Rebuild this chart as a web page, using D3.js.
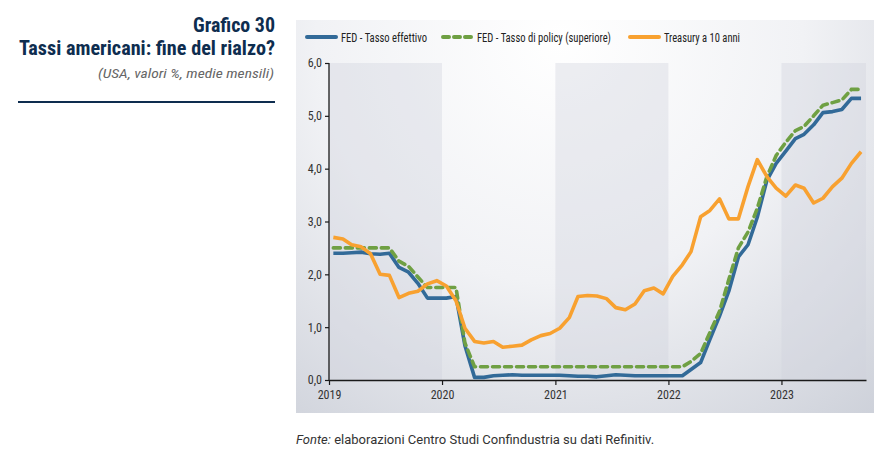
<!DOCTYPE html>
<html><head><meta charset="utf-8">
<script src="https://cdn.jsdelivr.net/npm/d3@7"></script>
<style>
body{margin:0;background:#fff;}
svg{display:block;}
text{font-family:'Roboto Condensed','Liberation Sans Narrow','Arial Narrow',Roboto,sans-serif;}
</style></head><body>
<svg id="c" width="891" height="453"></svg>
<script>
const months = [
"2019-01","2019-02","2019-03","2019-04","2019-05","2019-06","2019-07","2019-08","2019-09","2019-10","2019-11","2019-12",
"2020-01","2020-02","2020-03","2020-04","2020-05","2020-06","2020-07","2020-08","2020-09","2020-10","2020-11","2020-12",
"2021-01","2021-02","2021-03","2021-04","2021-05","2021-06","2021-07","2021-08","2021-09","2021-10","2021-11","2021-12",
"2022-01","2022-02","2022-03","2022-04","2022-05","2022-06","2022-07","2022-08","2022-09","2022-10","2022-11","2022-12",
"2023-01","2023-02","2023-03","2023-04","2023-05","2023-06","2023-07","2023-08","2023-09"];
const fedEffettivo = [
2.40,2.40,2.41,2.42,2.39,2.38,2.40,2.13,2.04,1.83,1.55,1.55,
1.55,1.58,0.65,0.05,0.05,0.08,0.09,0.10,0.09,0.09,0.09,0.09,
0.09,0.08,0.07,0.07,0.06,0.08,0.10,0.09,0.08,0.08,0.08,0.08,
0.08,0.08,0.20,0.33,0.77,1.21,1.68,2.33,2.56,3.08,3.78,4.10,
4.33,4.57,4.65,4.83,5.06,5.08,5.12,5.33,5.33];
const fedPolicy = [
2.50,2.50,2.50,2.50,2.50,2.50,2.50,2.25,2.15,1.95,1.75,1.75,
1.75,1.75,0.70,0.25,0.25,0.25,0.25,0.25,0.25,0.25,0.25,0.25,
0.25,0.25,0.25,0.25,0.25,0.25,0.25,0.25,0.25,0.25,0.25,0.25,
0.25,0.25,0.35,0.50,0.90,1.30,1.90,2.50,2.80,3.25,3.85,4.25,
4.50,4.72,4.80,5.00,5.20,5.25,5.30,5.50,5.50];
const treasury10 = [
2.70,2.67,2.56,2.52,2.39,2.00,1.98,1.56,1.64,1.68,1.82,1.88,
1.78,1.50,0.98,0.73,0.70,0.73,0.62,0.64,0.66,0.76,0.84,0.88,
0.98,1.18,1.58,1.60,1.59,1.54,1.37,1.33,1.44,1.69,1.74,1.63,
1.96,2.18,2.43,3.09,3.21,3.43,3.05,3.05,3.66,4.17,3.85,3.63,
3.48,3.69,3.63,3.35,3.44,3.66,3.82,4.10,4.32];
const yTicks = [0,1,2,3,4,5,6];
const xYears = ["2019","2020","2021","2022","2023"];
const seriesNames = ["FED - Tasso effettivo","FED - Tasso di policy (superiore)","Treasury a 10 anni"];
const colors = ["#326a98","#6fa043","#f8a130"];

const svg = d3.select("#c");
const defs = svg.append("defs");
const rg = defs.append("radialGradient").attr("id","bg").attr("gradientUnits","userSpaceOnUse")
  .attr("cx",560).attr("cy",40).attr("r",540).attr("fx",560).attr("fy",40);
rg.append("stop").attr("offset","0").attr("stop-color","#ffffff");
rg.append("stop").attr("offset","0.45").attr("stop-color","#f1f2f5");
rg.append("stop").attr("offset","1").attr("stop-color","#c6cad4");

// panel
svg.append("rect").attr("x",296).attr("y",20).attr("width",578).attr("height",393).attr("fill","url(#bg)");

const parse = d3.timeParse("%Y-%m-%d");
const x = d3.scaleTime().domain([parse("2019-01-01"),parse("2023-10-01")]).range([329,866]);
const y = d3.scaleLinear().domain([0,6]).range([380,63]);
const dates = months.map(m=>parse(m+"-15"));

// shaded years
[["2019","2020"],["2021","2022"],["2023",null]].forEach(([a,b])=>{
  const x0 = x(parse(a+"-01-01"));
  const x1 = b ? x(parse(b+"-01-01")) : x.range()[1];
  svg.append("rect").attr("x",x0).attr("y",y(6)).attr("width",x1-x0).attr("height",y(0)-y(6))
    .attr("fill","#cfd2dc").attr("opacity",0.38);
});

// axes
const ya = svg.append("g").attr("transform",`translate(329,0)`)
  .call(d3.axisLeft(y).tickValues(yTicks).tickFormat(d=>d3.format(".1f")(d).replace(".",",")).tickSize(4).tickPadding(3));
ya.select(".domain").attr("stroke","#1a1a1a").attr("stroke-width",1.3).attr("d","M0,63V380");
ya.selectAll(".tick line").attr("stroke","#1a1a1a").attr("stroke-width",1.2);
ya.selectAll("text").attr("fill","#333").attr("font-size",12);

const xa = svg.append("g").attr("transform",`translate(0,380)`)
  .call(d3.axisBottom(x).tickValues(xYears.map(s=>parse(s+"-01-01"))).tickFormat(d3.timeFormat("%Y")).tickSize(5).tickPadding(5).tickSizeOuter(0));
xa.select(".domain").attr("stroke","#1a1a1a").attr("stroke-width",1.3);
xa.selectAll(".tick line").attr("stroke","#1a1a1a").attr("stroke-width",1.2);
xa.selectAll("text").attr("fill","#333").attr("font-size",12);

// lines
const line = d3.line().x((d,i)=>x(dates[i])).y(d=>y(d)).curve(d3.curveLinear);
svg.append("path").datum(fedEffettivo).attr("d",line).attr("fill","none").attr("stroke",colors[0]).attr("stroke-width",3.6).attr("stroke-linejoin","round");
svg.append("path").datum(fedPolicy).attr("d",line).attr("fill","none").attr("stroke",colors[1]).attr("stroke-width",3.6).attr("stroke-dasharray","7,5").attr("stroke-linecap","round");
svg.append("path").datum(treasury10).attr("d",line).attr("fill","none").attr("stroke",colors[2]).attr("stroke-width",3.6).attr("stroke-linejoin","round");

// legend
const legX = [305,441,628];
const legW = [86,134,76];
seriesNames.forEach((n,i)=>{
  const g = svg.append("g");
  const l = g.append("line").attr("x1",legX[i]+2).attr("x2",legX[i]+31).attr("y1",37).attr("y2",37)
    .attr("stroke",colors[i]).attr("stroke-width",4).attr("stroke-linecap","round");
  if(i===1) l.attr("stroke-dasharray","6,5");
  g.append("text").attr("x",legX[i]+36).attr("y",41.5).attr("font-size",12.5).attr("fill","#222")
    .attr("textLength",legW[i]).attr("lengthAdjust","spacingAndGlyphs").text(n);
});

// titles
svg.append("text").attr("x",275).attr("y",32).attr("text-anchor","end").attr("font-size",20).attr("font-weight","bold")
  .attr("fill","#0e2d4f").attr("textLength",82).attr("lengthAdjust","spacingAndGlyphs").text("Grafico 30");
svg.append("text").attr("x",275).attr("y",55).attr("text-anchor","end").attr("font-size",20).attr("font-weight","bold")
  .attr("fill","#0e2d4f").attr("textLength",256).attr("lengthAdjust","spacingAndGlyphs").text("Tassi americani: fine del rialzo?");
svg.append("text").attr("x",274).attr("y",78).attr("text-anchor","end").attr("font-size",13).attr("font-style","italic")
  .attr("fill","#666").attr("textLength",176).attr("lengthAdjust","spacingAndGlyphs").text("(USA, valori %, medie mensili)");
svg.append("line").attr("x1",18).attr("x2",275).attr("y1",102).attr("y2",102).attr("stroke","#0e2d4f").attr("stroke-width",2);

const f = svg.append("text").attr("x",296).attr("y",444).attr("font-size",13).attr("fill","#333")
  .style("font-family","Roboto,sans-serif");
f.append("tspan").attr("font-style","italic").text("Fonte:");
f.append("tspan").text(" elaborazioni Centro Studi Confindustria su dati Refinitiv.");
</script>
</body></html>
